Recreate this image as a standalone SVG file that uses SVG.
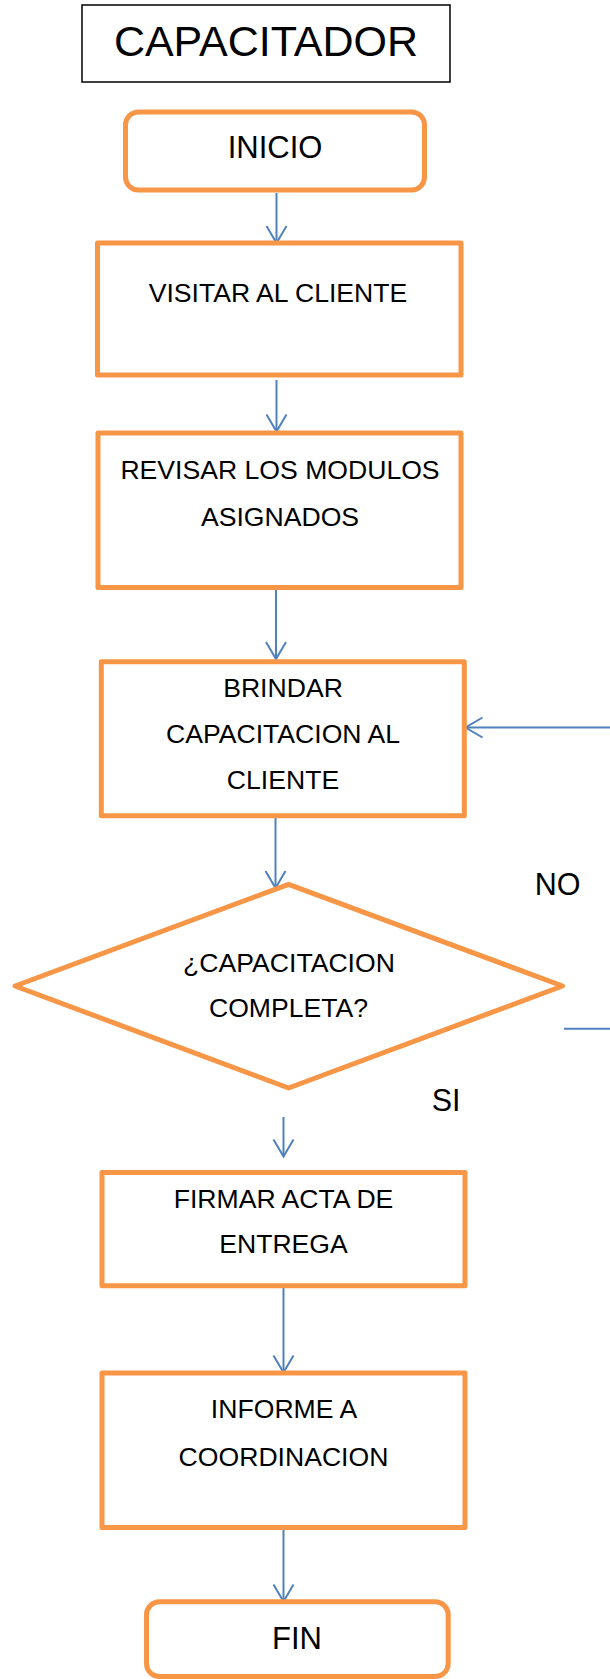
<svg xmlns="http://www.w3.org/2000/svg" width="610" height="1679" viewBox="0 0 610 1679">
  <style>
    .title { fill: #fff; stroke: #000; stroke-width: 1.5; }
    .term { fill: #fff; stroke: #F79646; stroke-width: 5; }
    .step { fill: #fff; stroke: #F79646; stroke-width: 5; stroke-linejoin: round; }
    .dec { fill: #fff; stroke: #F79646; stroke-width: 5; stroke-linejoin: round; }
    .flow { fill: none; stroke: #4F81BD; stroke-width: 2; }
    text { font-family: "Liberation Sans", Arial, sans-serif; fill: #000; text-anchor: middle; }
    .t-title { font-size: 43px; }
    .t-term { font-size: 31px; }
    .t-step { font-size: 26.6px; }
    .t-lbl { font-size: 30.5px; }
  </style>
  <defs>
    <marker id="open-arrow" markerUnits="userSpaceOnUse" markerWidth="24" markerHeight="24" viewBox="-20 -12 22 24" refX="0" refY="0" orient="auto">
      <path d="M-17,-10 L0,0 L-17,10" fill="none" stroke="#4F81BD" stroke-width="2"/>
    </marker>
  </defs>

  <rect width="610" height="1679" fill="#fff"/>

  <g id="header">
    <rect class="title" x="82" y="5" width="368" height="77"/>
    <text class="t-title" x="266" y="56">CAPACITADOR</text>
  </g>

  <g id="connectors">
    <line class="flow" x1="276.5" y1="193" x2="276.5" y2="243" marker-end="url(#open-arrow)"/>
    <line class="flow" x1="276.5" y1="380" x2="276.5" y2="431.5" marker-end="url(#open-arrow)"/>
    <line class="flow" x1="276" y1="589" x2="276" y2="659" marker-end="url(#open-arrow)"/>
    <line class="flow" x1="275.5" y1="817" x2="275.5" y2="888" marker-end="url(#open-arrow)"/>
    <line class="flow" x1="283.5" y1="1117" x2="283.5" y2="1156.5" marker-end="url(#open-arrow)"/>
    <line class="flow" x1="283.5" y1="1288" x2="283.5" y2="1372.5" marker-end="url(#open-arrow)"/>
    <line class="flow" x1="283.5" y1="1530" x2="283.5" y2="1601.5" marker-end="url(#open-arrow)"/>
    <line class="flow" x1="612" y1="727.5" x2="465.5" y2="727.5" marker-end="url(#open-arrow)"/>
    <line class="flow" x1="564" y1="1028.7" x2="612" y2="1028.7"/>
  </g>

  <g id="inicio">
    <rect class="term" x="125.5" y="112" width="299" height="78" rx="13" ry="13"/>
    <text class="t-term" x="275" y="157.5">INICIO</text>
  </g>

  <g id="visitar">
    <rect class="step" x="97.5" y="243" width="363.5" height="132"/>
    <text class="t-step" x="278" y="301.5">VISITAR AL CLIENTE</text>
  </g>

  <g id="revisar">
    <rect class="step" x="98" y="433" width="363" height="154.5"/>
    <text class="t-step" x="280" y="479.3">REVISAR LOS MODULOS</text>
    <text class="t-step" x="280" y="526">ASIGNADOS</text>
  </g>

  <g id="brindar">
    <rect class="step" x="101.3" y="661.8" width="363" height="154"/>
    <text class="t-step" x="283" y="697.3">BRINDAR</text>
    <text class="t-step" x="283" y="743.3">CAPACITACION AL</text>
    <text class="t-step" x="283" y="789.3">CLIENTE</text>
  </g>

  <g id="decision">
    <polygon class="dec" points="288.6,884.3 562.5,986 288.6,1088 15,986"/>
    <text class="t-step" x="289" y="971.7">¿CAPACITACION</text>
    <text class="t-step" x="288.5" y="1017.3">COMPLETA?</text>
  </g>

  <g id="label-no">
    <text class="t-lbl" x="557.7" y="895">NO</text>
  </g>

  <g id="label-si">
    <text class="t-lbl" x="446.2" y="1110.7">SI</text>
  </g>

  <g id="firmar">
    <rect class="step" x="102" y="1172.5" width="363" height="113.3"/>
    <text class="t-step" x="283.5" y="1208.3">FIRMAR ACTA DE</text>
    <text class="t-step" x="283.5" y="1253.3">ENTREGA</text>
  </g>

  <g id="informe">
    <rect class="step" x="102" y="1373" width="363" height="154.5"/>
    <text class="t-step" x="284" y="1418.3">INFORME A</text>
    <text class="t-step" x="283.5" y="1465.7">COORDINACION</text>
  </g>

  <g id="fin">
    <rect class="term" x="146.5" y="1601.8" width="301.7" height="74.7" rx="13" ry="13"/>
    <text class="t-term" x="297" y="1649">FIN</text>
  </g>
</svg>
